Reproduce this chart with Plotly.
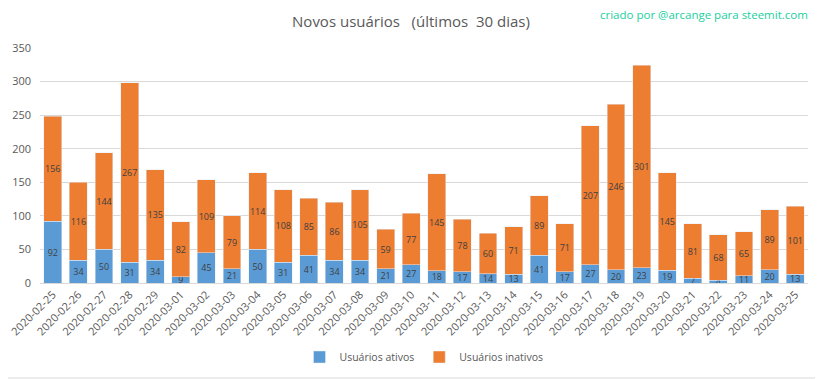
import plotly.graph_objects as go

dates = ["2020-02-25", "2020-02-26", "2020-02-27", "2020-02-28", "2020-02-29",
         "2020-03-01", "2020-03-02", "2020-03-03", "2020-03-04", "2020-03-05",
         "2020-03-06", "2020-03-07", "2020-03-08", "2020-03-09", "2020-03-10",
         "2020-03-11", "2020-03-12", "2020-03-13", "2020-03-14", "2020-03-15",
         "2020-03-16", "2020-03-17", "2020-03-18", "2020-03-19", "2020-03-20",
         "2020-03-21", "2020-03-22", "2020-03-23", "2020-03-24", "2020-03-25"]
ativos = [92, 34, 50, 31, 34, 9, 45, 21, 50, 31, 41, 34, 34, 21, 27,
          18, 17, 14, 13, 41, 17, 27, 20, 23, 19, 7, 4, 11, 20, 13]
inativos = [156, 116, 144, 267, 135, 82, 109, 79, 114, 108, 85, 86, 105, 59, 77,
            145, 78, 60, 71, 89, 71, 207, 246, 301, 145, 81, 68, 65, 89, 101]
y_ticks = [0, 50, 100, 150, 200, 250, 300, 350]

FONT = "Open Sans"
GRAY = "#595959"

# page body has an 8px default margin: figure is sized/offset to compensate
W, H = 815, 371
ML, MR, MT, MB = 32, 15, 40, 96
PW, PH = W - ML - MR, H - MT - MB

fig = go.Figure()
fig.add_trace(go.Bar(
    x=dates, y=ativos, name="Usuários ativos", marker_color="#5B9BD5",
    text=ativos, textposition="inside", insidetextanchor="middle", textangle=0,
    textfont=dict(size=9, color="#404040", family=FONT), constraintext="none",
))
fig.add_trace(go.Bar(
    x=dates, y=inativos, name="Usuários inativos", marker_color="#ED7D31",
    text=inativos, textposition="inside", insidetextanchor="middle", textangle=0,
    textfont=dict(size=9, color="#404040", family=FONT), constraintext="none",
))

fig.update_layout(
    width=W, height=H,
    barmode="stack", bargap=0.3,
    paper_bgcolor="white", plot_bgcolor="white",
    margin=dict(l=ML, r=MR, t=MT, b=MB, autoexpand=False),
    font=dict(family=FONT, color=GRAY, size=11),
    uniformtext=dict(minsize=9, mode="show"),
    title=dict(text="Novos usuários &nbsp;&nbsp;(últimos &nbsp;30 dias)",
               x=(411 - 8) / W, xanchor="center", xref="container",
               y=1 - 14 / H, yanchor="middle", yref="container",
               font=dict(size=15, color=GRAY, family=FONT)),
    showlegend=True,
    legend=dict(orientation="h", x=0.5, xanchor="center", y=22 / H, yanchor="middle",
                yref="container",
                font=dict(size=10.5, color=GRAY, family=FONT), itemwidth=30,
                traceorder="normal"),
    annotations=[dict(text="criado por @arcange para steemit.com", xref="paper", yref="paper",
                      x=1 + 2 / PW, xanchor="right", y=1 + 34 / PH, yanchor="middle",
                      showarrow=False, font=dict(size=11.5, color="#20D0A0", family=FONT))],
    shapes=[
        dict(type="line", xref="paper", yref="paper",
             x0=1 + 13.5 / PW, x1=1 + 13.5 / PW, y0=-95 / PH, y1=1 + MT / PH,
             line=dict(color="#D9D9D9", width=1)),
        dict(type="line", xref="paper", yref="paper",
             x0=-ML / PW, x1=1 + 14 / PW, y0=-95 / PH, y1=-95 / PH,
             line=dict(color="#D9D9D9", width=1)),
    ],
)
fig.update_xaxes(type="category", tickangle=-45, showgrid=False, showline=True,
                 linecolor="#D9D9D9", ticks="", automargin=False,
                 tickfont=dict(size=11, color=GRAY))
fig.update_yaxes(range=[0, 350], tickvals=y_ticks, showgrid=True, gridcolor="#D9D9D9",
                 zeroline=False, showline=False, ticks="", automargin=False,
                 ticklabelstandoff=8, tickfont=dict(size=11, color=GRAY))

fig.write_html("out.html")
